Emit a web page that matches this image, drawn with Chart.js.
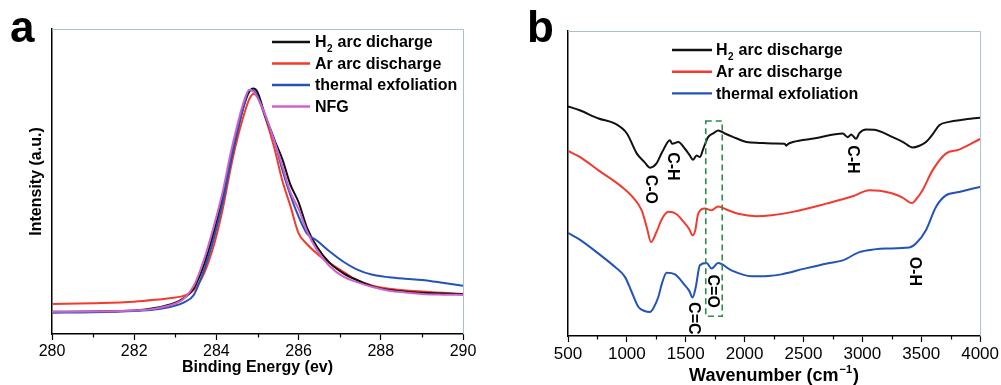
<!DOCTYPE html>
<html><head><meta charset="utf-8">
<script src="https://cdn.jsdelivr.net/npm/chart.js@4.4.1/dist/chart.umd.min.js"></script>
<style>
html,body{margin:0;padding:0;background:#fff;}
#wrap{position:relative;width:1001px;height:385px;overflow:hidden;background:#fff;}
#ca{position:absolute;left:0;top:0;}
#cb{position:absolute;left:500px;top:0;}
</style></head><body>
<div id="wrap"><canvas id="ca" width="500" height="385"></canvas><canvas id="cb" width="501" height="385"></canvas></div>
<script>
const FONT = '"Liberation Sans", Arial, Helvetica, sans-serif';

// ---------- Panel a : XPS C1s ----------
const energyEv = [280, 281, 282, 282.5, 283, 283.2, 283.45, 283.7, 283.95, 284.15, 284.35, 284.5, 284.65, 284.8, 284.9, 285.0, 285.2, 285.4, 285.6, 285.8, 286.0, 286.2, 286.45, 286.75, 287.1, 287.4, 287.8, 288.2, 288.6, 289.0, 289.5, 290];
const xpsH2      = [7.3, 7.4, 7.7, 8.5, 10.3, 11.7, 15.0, 22.8, 34.0, 44.5, 57.3, 66.0, 74.0, 79.5, 80.5, 79.3, 71.0, 64.0, 57.5, 49.0, 43.2, 35.0, 28.5, 23.4, 19.8, 17.8, 15.6, 14.4, 13.9, 13.5, 13.3, 13.0];
const xpsAr      = [9.8, 10.1, 10.6, 11.2, 12.0, 12.5, 14.4, 19.9, 29.7, 40.7, 54.5, 63.5, 71.0, 77.0, 78.7, 77.8, 70.5, 61.5, 50.5, 42.0, 33.0, 29.5, 26.3, 23.3, 20.3, 17.8, 15.8, 14.8, 14.3, 13.9, 13.5, 13.1];
const xpsThermal = [7.0, 7.1, 7.5, 8.0, 9.3, 10.3, 12.8, 21.0, 32.0, 43.0, 56.5, 66.0, 74.0, 80.0, 79.8, 78.0, 71.0, 64.0, 54.0, 45.5, 38.5, 33.0, 30.6, 27.1, 23.6, 21.3, 19.4, 18.6, 18.1, 17.7, 16.8, 15.8];
const xpsNFG     = [7.3, 7.4, 7.7, 8.3, 10.0, 11.5, 15.8, 24.5, 36.0, 46.5, 59.5, 68.0, 75.5, 80.0, 79.5, 77.5, 71.5, 63.5, 55.3, 46.5, 41.0, 33.8, 27.4, 22.3, 18.7, 17.1, 15.4, 14.2, 13.6, 13.1, 12.9, 12.8];
const xpsLabels  = ['H\u2082 arc dicharge', 'Ar arc discharge', 'thermal exfoliation', 'NFG'];
const xpsColors  = ['#111111', '#f23a2e', '#2352b8', '#d062cc'];
const xpsTicks   = [280, 282, 284, 286, 288, 290];
const xpsMinor   = [281, 283, 285, 287, 289];

// ---------- Panel b : FTIR ----------
const h2Wave = [500, 600, 760, 900, 1000, 1085, 1150, 1197, 1250, 1300, 1366, 1385, 1437, 1493, 1530, 1563, 1592, 1620, 1650, 1690, 1740, 1775, 1832, 1900, 2016, 2128, 2250, 2340, 2354, 2370, 2410, 2600, 2834, 2876, 2905, 2947, 2975, 3032, 3100, 3257, 3350, 3426, 3480, 3540, 3600, 3653, 3737, 3850, 4000];
const h2Val  = [75.3, 74.0, 71.3, 69.6, 66.4, 59.8, 57.0, 55.2, 56.5, 60.3, 64.2, 63.0, 63.6, 61.4, 59.5, 57.8, 59.2, 58.7, 61.5, 65.2, 66.6, 67.4, 66.4, 65.3, 63.6, 63.3, 63.1, 63.0, 62.4, 63.0, 63.6, 64.8, 66.4, 65.2, 66.1, 64.7, 66.5, 67.7, 67.6, 65.2, 63.5, 61.8, 62.3, 63.6, 66.3, 69.1, 70.2, 70.9, 71.6];
const arWave = [500, 600, 759, 957, 1050, 1126, 1170, 1205, 1250, 1300, 1352, 1420, 1480, 1530, 1558, 1580, 1606, 1663, 1719, 1775, 1850, 1945, 2100, 2227, 2410, 2693, 2918, 3060, 3150, 3257, 3341, 3421, 3450, 3511, 3596, 3709, 3822, 4000];
const arVal  = [60.7, 58.7, 54.3, 48.9, 45.5, 41.2, 35.5, 30.8, 34.0, 38.5, 40.7, 40.0, 37.5, 35.0, 33.0, 34.5, 40.1, 41.8, 41.2, 42.5, 41.4, 40.1, 39.3, 39.6, 40.7, 43.4, 45.8, 47.8, 47.6, 46.7, 45.4, 43.6, 44.5, 47.8, 54.3, 59.8, 61.1, 64.6];
const teWave = [500, 600, 759, 900, 985, 1040, 1098, 1150, 1197, 1230, 1267, 1300, 1338, 1409, 1493, 1530, 1558, 1585, 1620, 1677, 1719, 1775, 1888, 2058, 2200, 2312, 2500, 2700, 2834, 2975, 3100, 3201, 3398, 3455, 3540, 3625, 3709, 3822, 4000];
const teVal  = [33.8, 31.6, 27.0, 22.6, 19.3, 14.5, 9.5, 8.2, 7.9, 9.5, 12.8, 17.5, 20.7, 20.2, 16.6, 14.8, 12.6, 16.0, 23.2, 23.9, 22.1, 23.9, 21.5, 19.6, 19.7, 20.2, 22.0, 23.8, 24.8, 27.5, 28.4, 28.7, 29.0, 30.3, 34.7, 42.3, 46.1, 47.2, 48.9];
const ftirLabels = ['H\u2082 arc discharge', 'Ar arc discharge', 'thermal exfoliation'];
const ftirColors = ['#111111', '#f23a2e', '#2352b8'];
const ftirTicks  = [500, 1000, 1500, 2000, 2500, 3000, 3500, 4000];
const ftirMinor  = [750, 1250, 1750, 2250, 2750, 3250, 3750];
const markText   = ['C-O', 'C-H', 'C-H', 'O-H', 'C=O', 'C=C'];
const markWave   = [1197, 1383, 2916, 3441, 1730, 1561];
const markLevel  = [48.1, 55.6, 57.9, 21.2, 14.7, 5.8];
const boxWave    = [1670, 1810];
const boxLevel   = [6.5, 70.5];

// ---------- helpers ----------
function drawLegend(chart, o) {
  const ctx = chart.ctx;
  ctx.save();
  chart.data.datasets.forEach((ds, i) => {
    const y = o.y0 + i * o.dy;
    ctx.strokeStyle = ds.borderColor; ctx.lineWidth = 2.4;
    ctx.beginPath(); ctx.moveTo(o.x0, y); ctx.lineTo(o.x1, y); ctx.stroke();
    ctx.fillStyle = '#000'; ctx.textBaseline = 'middle'; ctx.textAlign = 'left';
    let x = o.tx;
    const parts = ds.label.split('\u2082');
    ctx.font = 'bold 16px ' + FONT;
    ctx.fillText(parts[0], x, y + 1); x += ctx.measureText(parts[0]).width;
    if (parts.length > 1) {
      ctx.font = 'bold 10px ' + FONT;
      ctx.fillText('2', x + 0.5, y + 7); x += ctx.measureText('2').width + 1;
      ctx.font = 'bold 16px ' + FONT;
      ctx.fillText(parts[1], x, y + 1);
    }
  });
  ctx.restore();
}
function drawFrame(chart, minor) {
  const {ctx, chartArea: a} = chart;
  const xs = chart.scales.x;
  ctx.save();
  ctx.strokeStyle = '#a9c2c8'; ctx.lineWidth = 1;
  ctx.beginPath(); ctx.moveTo(a.left, a.top + 0.5); ctx.lineTo(a.right + 0.5, a.top + 0.5); ctx.lineTo(a.right + 0.5, a.bottom); ctx.stroke();
  ctx.strokeStyle = '#000'; ctx.lineWidth = 1.2;
  minor.forEach(v => {
    const px = Math.round(xs.getPixelForValue(v)) + 0.5;
    ctx.beginPath(); ctx.moveTo(px, a.bottom); ctx.lineTo(px, a.bottom + 3.5); ctx.stroke();
  });
  ctx.restore();
}
function panelLetter(chart, t, x) {
  const ctx = chart.ctx;
  ctx.save(); ctx.fillStyle = '#000'; ctx.font = 'bold 44px ' + FONT;
  ctx.textAlign = 'left'; ctx.textBaseline = 'alphabetic';
  ctx.fillText(t, x, 42); ctx.restore();
}

const common = {
  animation: false, responsive: false, devicePixelRatio: 1,
  plugins: { legend: { display: false }, tooltip: { enabled: false } },
  elements: { point: { radius: 0 }, line: { borderWidth: 2, cubicInterpolationMode: 'monotone' } }
};

// ---------- Chart a ----------
const seriesA = [xpsH2, xpsAr, xpsThermal, xpsNFG];
new Chart(document.getElementById('ca'), {
  type: 'line',
  data: {
    datasets: seriesA.map((s, i) => ({
      label: xpsLabels[i], borderColor: xpsColors[i], backgroundColor: xpsColors[i],
      data: energyEv.map((e, j) => ({ x: e, y: s[j] })), order: [2, 3, 1, 0][i]
    }))
  },
  options: Object.assign({}, common, {
    layout: { padding: { top: 29, right: 37, left: 0, bottom: 0 } },
    scales: {
      x: {
        type: 'linear', min: 280, max: 290,
        afterBuildTicks: s => { s.ticks = xpsTicks.map(v => ({ value: v })); },
        ticks: { font: { family: FONT, size: 16 }, color: '#000', padding: 2, maxRotation: 0, autoSkip: false, callback: v => String(v) },
        grid: { drawOnChartArea: false, drawTicks: true, tickLength: 6, color: '#000', tickWidth: 1.2 },
        border: { display: true, color: '#000', width: 1.5 },
        title: { display: true, text: 'Binding Energy (ev)', color: '#000', font: { family: FONT, size: 16, weight: 'bold' }, padding: { top: 0, bottom: 8 } },
        afterFit: s => { s.height = 51; }
      },
      y: {
        type: 'linear', min: 0, max: 100,
        ticks: { display: false }, grid: { display: false },
        border: { display: true, color: '#000', width: 1.5 },
        title: { display: true, text: 'Intensity (a.u.)', color: '#000', font: { family: FONT, size: 16, weight: 'bold' }, padding: { top: 27, bottom: 0 } },
        afterFit: s => { s.width = 52; }
      }
    }
  }),
  plugins: [{
    id: 'decoA',
    afterDraw: ch => {
      drawFrame(ch, xpsMinor);
      drawLegend(ch, { x0: 272, x1: 310, tx: 315, y0: 42, dy: 21.5 });
      panelLetter(ch, 'a', 10);
    }
  }]
});

// ---------- Chart b ----------
const seriesB = [[h2Wave, h2Val], [arWave, arVal], [teWave, teVal]];
new Chart(document.getElementById('cb'), {
  type: 'line',
  data: {
    datasets: seriesB.map((s, i) => ({
      label: ftirLabels[i], borderColor: ftirColors[i], backgroundColor: ftirColors[i],
      data: s[0].map((w, j) => ({ x: w, y: s[1][j] }))
    }))
  },
  options: Object.assign({}, common, {
    layout: { padding: { top: 31, right: 20, left: 0, bottom: 0 } },
    scales: {
      x: {
        type: 'linear', min: 500, max: 4000,
        afterBuildTicks: s => { s.ticks = ftirTicks.map(v => ({ value: v })); },
        ticks: { font: { family: FONT, size: 17 }, color: '#000', padding: 2, maxRotation: 0, autoSkip: false, callback: v => String(v) },
        grid: { drawOnChartArea: false, drawTicks: true, tickLength: 6, color: '#000', tickWidth: 1.2 },
        border: { display: true, color: '#000', width: 1.5 },
        afterFit: s => { s.height = 49; }
      },
      y: {
        type: 'linear', min: 0, max: 100,
        ticks: { display: false }, grid: { display: false },
        border: { display: true, color: '#000', width: 1.5 },
        afterFit: s => { s.width = 68; }
      }
    }
  }),
  plugins: [{
    id: 'decoB',
    afterDraw: ch => {
      const ctx = ch.ctx, xs = ch.scales.x, ys = ch.scales.y, a = ch.chartArea;
      drawFrame(ch, ftirMinor);
      drawLegend(ch, { x0: 172, x1: 212, tx: 216, y0: 50, dy: 21.7 });
      panelLetter(ch, 'b', 27);
      // dashed C=O box
      ctx.save();
      ctx.strokeStyle = '#2e8b4a'; ctx.lineWidth = 1.6; ctx.setLineDash([6, 4]);
      const bx0 = xs.getPixelForValue(boxWave[0]), bx1 = xs.getPixelForValue(boxWave[1]);
      const by0 = ys.getPixelForValue(boxLevel[1]), by1 = ys.getPixelForValue(boxLevel[0]);
      ctx.strokeRect(bx0, by0, bx1 - bx0, by1 - by0);
      ctx.restore();
      // band labels (rotated)
      ctx.save();
      ctx.fillStyle = '#000'; ctx.font = 'bold 16px ' + FONT;
      ctx.textAlign = 'center'; ctx.textBaseline = 'middle';
      markText.forEach((t, i) => {
        ctx.save();
        ctx.translate(xs.getPixelForValue(markWave[i]), ys.getPixelForValue(markLevel[i]));
        ctx.rotate(Math.PI / 2);
        ctx.fillText(t, 0, 0);
        ctx.restore();
      });
      ctx.restore();
      // x title with superscript
      ctx.save();
      ctx.fillStyle = '#000'; ctx.textBaseline = 'alphabetic'; ctx.textAlign = 'left';
      const p1 = 'Wavenumber (cm', sup = '\u22121', p2 = ')';
      ctx.font = 'bold 18px ' + FONT; const w1 = ctx.measureText(p1).width, w3 = ctx.measureText(p2).width;
      ctx.font = 'bold 11px ' + FONT; const w2 = ctx.measureText(sup).width;
      let x = (a.left + a.right) / 2 - (w1 + w2 + w3 + 2) / 2;
      const base = 381;
      ctx.font = 'bold 18px ' + FONT; ctx.fillText(p1, x, base); x += w1 + 1;
      ctx.font = 'bold 11px ' + FONT; ctx.fillText(sup, x, base - 8); x += w2 + 1;
      ctx.font = 'bold 18px ' + FONT; ctx.fillText(p2, x, base);
      ctx.restore();
    }
  }]
});
</script>
</body></html>
